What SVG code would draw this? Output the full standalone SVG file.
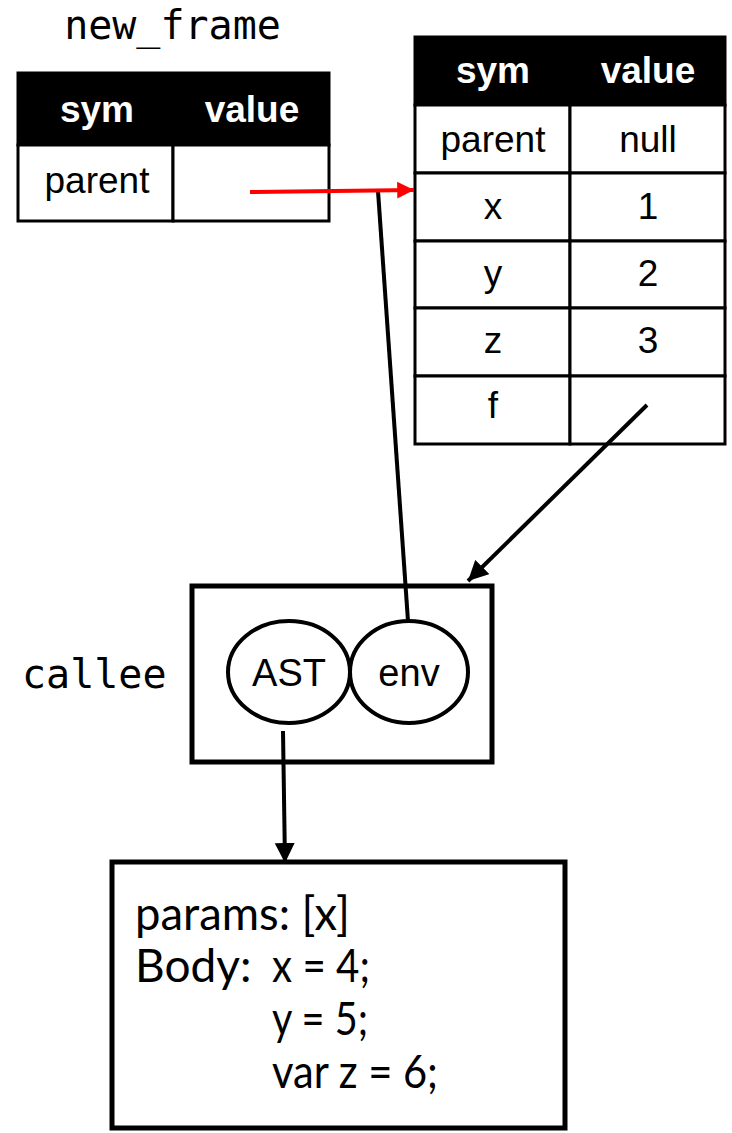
<svg xmlns="http://www.w3.org/2000/svg" width="732" height="1133" viewBox="0 0 732 1133">
<style>
.mono{font-family:"DejaVu Sans Mono","Liberation Mono",monospace;font-size:40px;fill:#000}
.th{font-family:"Liberation Sans",Arial,sans-serif;font-size:37px;font-weight:bold;fill:#fff;text-anchor:middle}
.td{font-family:"Liberation Sans",Arial,sans-serif;font-size:37px;fill:#000;text-anchor:middle}
.el{font-size:38px}
.cell{fill:#fff;stroke:#000;stroke-width:3}
.hdr{fill:#000;stroke:#000;stroke-width:3}
.box{fill:#fff;stroke:#000;stroke-width:5}
.ell{fill:#fff;stroke:#000;stroke-width:4}
.code{font-family:Lato,"Open Sans",sans-serif;font-size:46px;fill:#000}
.con{fill:none;stroke:#000;stroke-width:4}
</style>
<defs>
<marker id="ah" viewBox="0 0 10 10" refX="10" refY="5" markerWidth="5" markerHeight="5" markerUnits="strokeWidth" orient="auto"><path d="M0,0 L10,5 L0,10 z" fill="#000"/></marker>
<marker id="ahr" viewBox="0 0 10 10" refX="10" refY="5" markerWidth="4.2" markerHeight="4.5" markerUnits="strokeWidth" orient="auto"><path d="M0,0 L10,5 L0,10 z" fill="#f00"/></marker>
</defs>
<g id="new_frame">
<text class="mono" x="172.5" y="39" text-anchor="middle">new_frame</text>
<rect class="hdr" x="18" y="73" width="311" height="72"/>
<text class="th" x="97" y="122">sym</text>
<text class="th" x="252" y="122">value</text>
<rect class="cell" x="18" y="145" width="155" height="76"/>
<rect class="cell" x="173" y="145" width="156" height="76"/>
<text class="td" x="97" y="193">parent</text>
</g>
<g id="global_frame">
<rect class="hdr" x="415" y="37" width="310" height="68"/>
<text class="th" x="493" y="83">sym</text>
<text class="th" x="648" y="83">value</text>
<rect class="cell" x="415" y="105" width="155" height="68"/>
<rect class="cell" x="570" y="105" width="155" height="68"/>
<text class="td" x="493" y="152">parent</text>
<text class="td" x="648" y="152">null</text>
<rect class="cell" x="415" y="173" width="155" height="68"/>
<rect class="cell" x="570" y="173" width="155" height="68"/>
<text class="td" x="493" y="219">x</text>
<text class="td" x="648" y="219">1</text>
<rect class="cell" x="415" y="241" width="155" height="67"/>
<rect class="cell" x="570" y="241" width="155" height="67"/>
<text class="td" x="493" y="286">y</text>
<text class="td" x="648" y="286">2</text>
<rect class="cell" x="415" y="308" width="155" height="68"/>
<rect class="cell" x="570" y="308" width="155" height="68"/>
<text class="td" x="493" y="353">z</text>
<text class="td" x="648" y="353">3</text>
<rect class="cell" x="415" y="376" width="155" height="68"/>
<rect class="cell" x="570" y="376" width="155" height="68"/>
<text class="td" x="493" y="418">f</text>
</g>
<g id="callee">
<text class="mono" x="22" y="688">callee</text>
<rect class="box" x="192" y="586" width="300" height="176"/>
<ellipse class="ell" cx="289" cy="672" rx="61" ry="51"/>
<ellipse class="ell" cx="409" cy="672" rx="59" ry="51"/>
<text class="td el" x="289" y="686">AST</text>
<text class="td el" x="409" y="686">env</text>
</g>
<g id="ast_node">
<rect class="box" x="112" y="862" width="453" height="266"/>
<text class="code" x="135" y="930" textLength="215" lengthAdjust="spacingAndGlyphs">params: [x]</text>
<text class="code" x="135" y="982">Body:</text>
<text class="code" x="272" y="982" textLength="98" lengthAdjust="spacingAndGlyphs">x = 4;</text>
<text class="code" x="272" y="1035" textLength="96" lengthAdjust="spacingAndGlyphs">y = 5;</text>
<text class="code" x="272" y="1088" textLength="166" lengthAdjust="spacingAndGlyphs">var z = 6;</text>
</g>
<g id="connectors">
<line class="con" x1="408" y1="621" x2="378" y2="191"/>
<line x1="250" y1="192" x2="414" y2="190" stroke="#f00" stroke-width="4" marker-end="url(#ahr)"/>
<line class="con" x1="647" y1="405" x2="468" y2="581" marker-end="url(#ah)"/>
<line class="con" x1="283" y1="731" x2="285" y2="863" marker-end="url(#ah)"/>
</g>
</svg>
